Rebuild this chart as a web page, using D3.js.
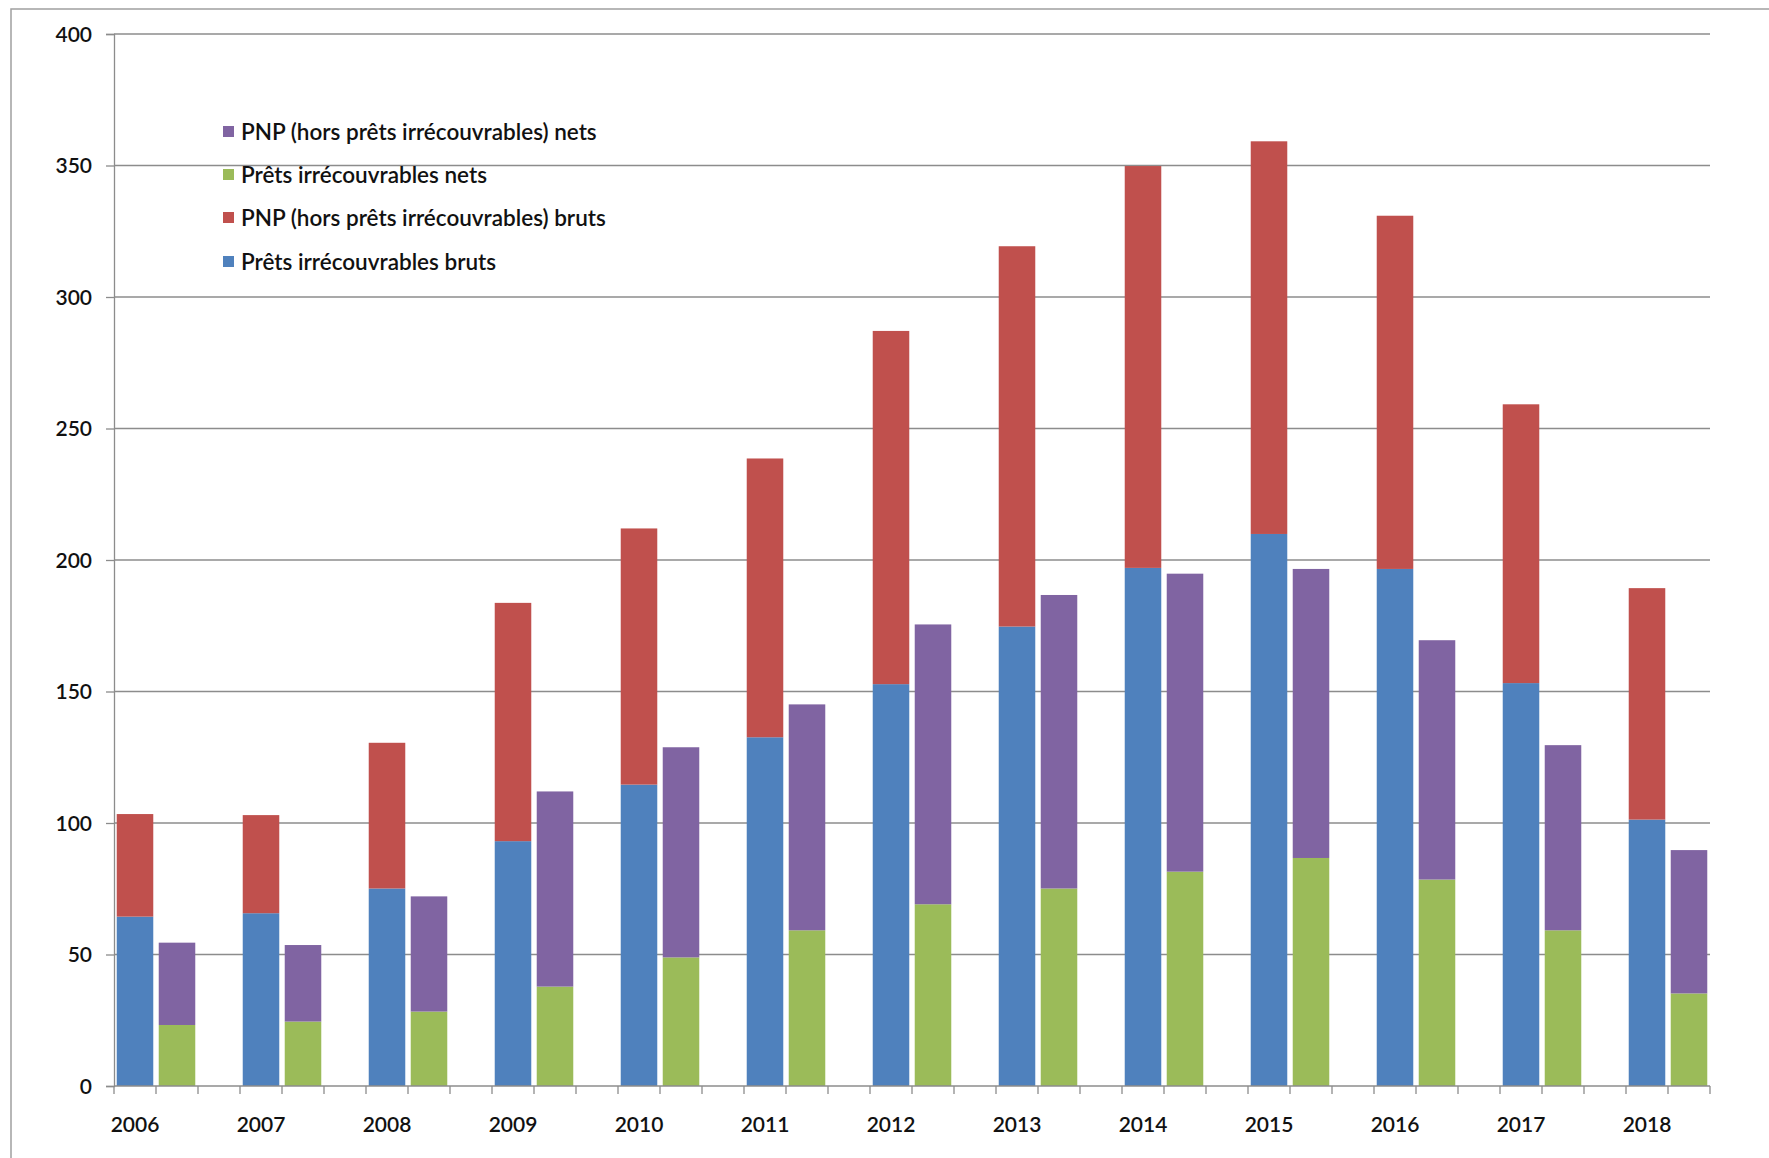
<!DOCTYPE html>
<html><head><meta charset="utf-8">
<script src="https://cdn.jsdelivr.net/npm/d3@7"></script>
<style>
html,body{margin:0;padding:0;background:#fff;}
svg{display:block;}
text{font-family:Lato,"Open Sans",sans-serif;fill:#111;font-weight:600;}
</style></head>
<body>
<svg id="chart" width="1769" height="1158"></svg>
<script>
const years = ["2006","2007","2008","2009","2010","2011","2012","2013","2014","2015","2016","2017","2018"];
// Gross: irrecoverable loans (blue) + NPL excl. irrecoverable (red)
const pretsIrrecBruts = [64.4,65.7,75.1,93.1,114.6,132.6,152.8,174.7,197.0,209.9,196.6,153.2,101.3];
const pnpBruts        = [39.0,37.3,55.4,90.6,97.4,106.0,134.3,144.6,152.8,149.3,134.3,106.0,88.0];
// Net: irrecoverable loans (green) + NPL excl. irrecoverable (purple)
const pretsIrrecNets  = [23.2,24.5,28.3,37.8,48.9,59.2,69.1,75.1,81.5,86.7,78.5,59.2,35.2];
const pnpNets         = [31.3,29.1,43.8,74.2,79.9,85.9,106.4,111.6,113.3,109.9,91.0,70.4,54.5];
const yTicks = [0,50,100,150,200,250,300,350,400];
const legendLabels = [
  {key:"pnpNets", label:"PNP (hors prêts irrécouvrables) nets"},
  {key:"pretsIrrecNets", label:"Prêts irrécouvrables nets"},
  {key:"pnpBruts", label:"PNP (hors prêts irrécouvrables) bruts"},
  {key:"pretsIrrecBruts", label:"Prêts irrécouvrables bruts"}
];
const colors = {pretsIrrecBruts:"#4F81BD", pnpBruts:"#C0504D", pretsIrrecNets:"#9BBB59", pnpNets:"#8064A2"};

const svg = d3.select("#chart");
const L = 114, R = 1710, T = 34, B = 1086;

// outer frame (top & left visible)
svg.append("rect").attr("x",11).attr("y",9).attr("width",1800).attr("height",1300)
  .attr("fill","none").attr("stroke","#a0a0a0").attr("stroke-width",1.5);

// slots: gross bar, net bar, gap ... last year has no gap
const nSlots = years.length*3 - 1;
const slots = d3.range(nSlots);
const x = d3.scaleBand().domain(slots).range([L,R]).paddingInner(0.13).paddingOuter(0.065);
const xs = d3.scaleLinear().domain([0,nSlots]).range([L,R]);
const y = d3.scaleLinear().domain([0,400]).range([B,T]);

// gridlines
svg.append("g").selectAll("line").data(yTicks.filter(d=>d>0)).join("line")
  .attr("x1",L).attr("x2",R).attr("y1",d=>y(d)).attr("y2",d=>y(d))
  .attr("stroke","#8c8c8c").attr("stroke-width",1.3);

// build stacked data
const grossRows = years.map((yr,i)=>({slot:3*i, pretsIrrecBruts:pretsIrrecBruts[i], pnpBruts:pnpBruts[i]}));
const netRows = years.map((yr,i)=>({slot:3*i+1, pretsIrrecNets:pretsIrrecNets[i], pnpNets:pnpNets[i]}));
const grossStack = d3.stack().keys(["pretsIrrecBruts","pnpBruts"])(grossRows);
const netStack = d3.stack().keys(["pretsIrrecNets","pnpNets"])(netRows);

const bars = svg.append("g");
[...grossStack, ...netStack].forEach(series=>{
  bars.append("g").attr("fill",colors[series.key]).selectAll("rect").data(series).join("rect")
    .attr("x",d=>x(d.data.slot)).attr("width",x.bandwidth())
    .attr("y",d=>y(d[1])).attr("height",d=>y(d[0])-y(d[1]));
});

// y axis
const yAxis = d3.axisLeft(y).tickValues(yTicks).tickSize(8).tickPadding(14).tickFormat(d3.format("d"));
const gy = svg.append("g").attr("transform",`translate(${L},0)`).call(yAxis);
gy.select(".domain").attr("stroke","#8c8c8c").attr("stroke-width",1.3);
gy.selectAll(".tick line").attr("stroke","#8c8c8c").attr("stroke-width",1.3);
gy.selectAll(".tick text").style("font-size","21px").attr("dy","0.35em").attr("fill","#111");

// x axis: line and ticks at slot boundaries
const gx = svg.append("g");
gx.append("line").attr("x1",L).attr("x2",R).attr("y1",B).attr("y2",B).attr("stroke","#8c8c8c").attr("stroke-width",1.3);
gx.selectAll("line.tk").data(d3.range(nSlots+1)).join("line").attr("class","tk")
  .attr("x1",d=>xs(d)).attr("x2",d=>xs(d)).attr("y1",B).attr("y2",B+8)
  .attr("stroke","#8c8c8c").attr("stroke-width",1.3);
gx.selectAll("text").data(years).join("text")
  .attr("x",(d,i)=>x(3*i)+x.bandwidth()/2).attr("y",1125).attr("dy","0.35em")
  .attr("text-anchor","middle").style("font-size","21px").text(d=>d);

// legend
const lg = svg.append("g");
const ly = [132,175,218,262];
legendLabels.forEach((d,i)=>{
  lg.append("rect").attr("x",223).attr("y",ly[i]-6).attr("width",11).attr("height",11).attr("fill",colors[d.key]);
  lg.append("text").attr("x",241).attr("y",ly[i]).attr("dy","0.35em").style("font-size","22.5px").text(d.label);
});
</script>
</body></html>
